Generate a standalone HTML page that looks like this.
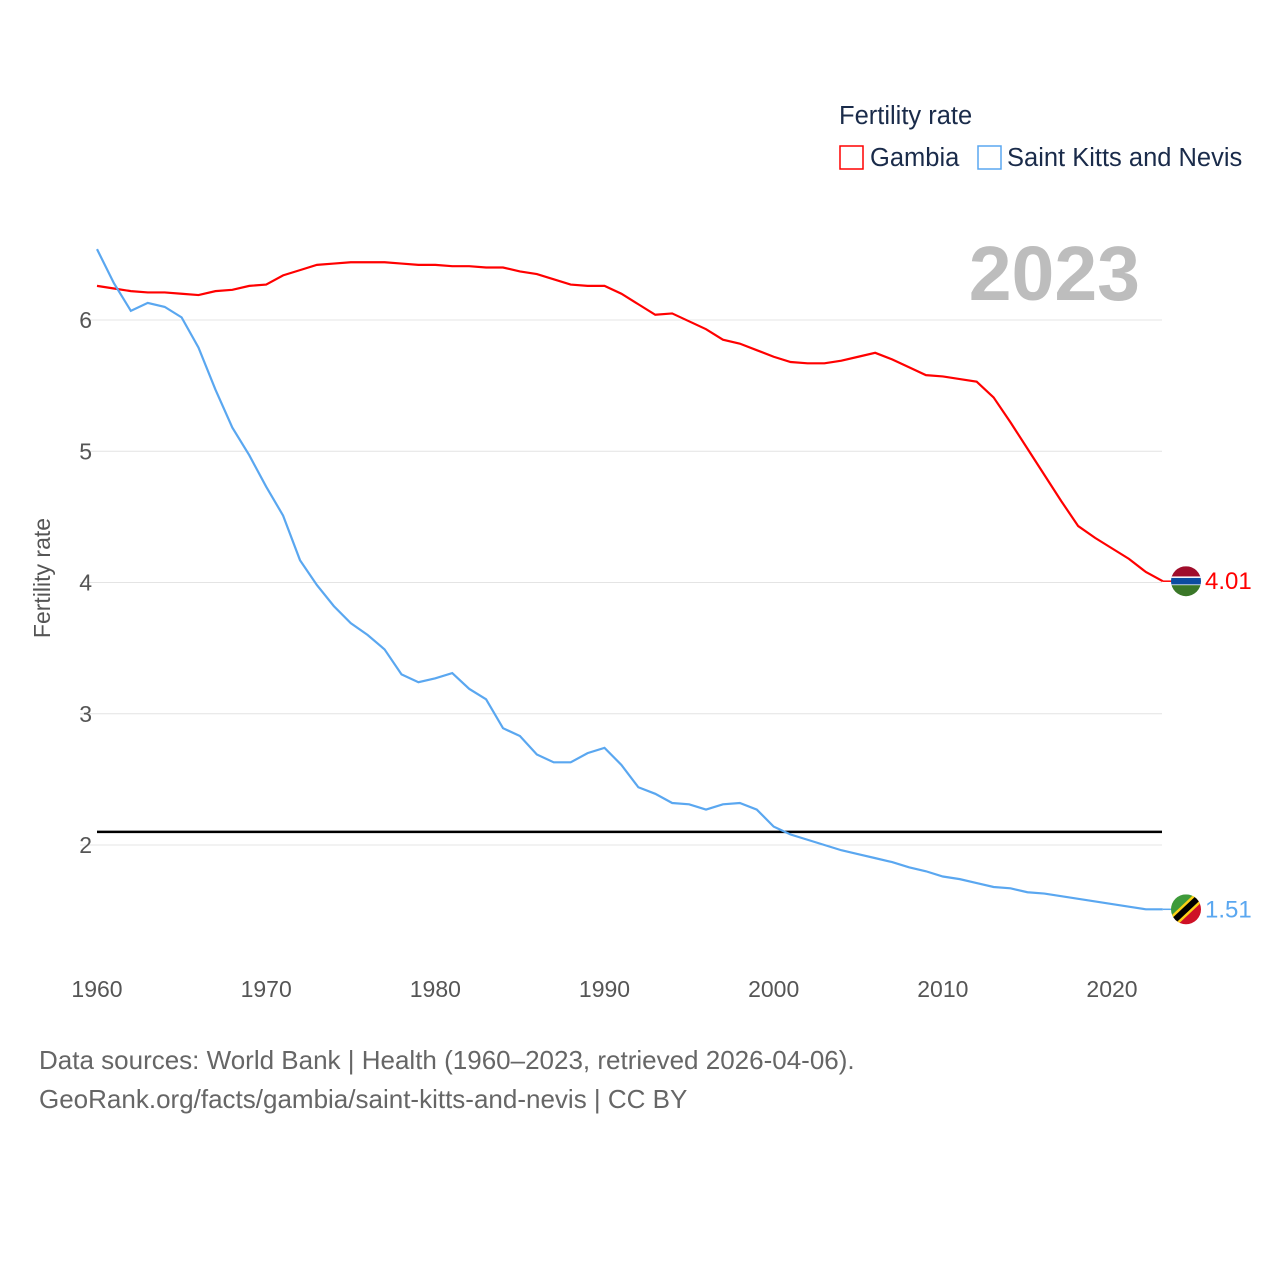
<!DOCTYPE html>
<html><head><meta charset="utf-8"><style>
body{margin:0;background:#fff;font-family:"Liberation Sans",sans-serif}
svg text{font-family:"Liberation Sans",sans-serif}
</style></head><body>
<svg width="1280" height="1280" viewBox="0 0 1280 1280">
<g id="grid"></g>
<text x="839" y="124" font-size="25.5" fill="#1a2b4a">Fertility rate</text>
<g><rect x="840" y="146" width="23" height="23" fill="none" stroke="#f00" stroke-width="1.5"/><text x="870" y="166" font-size="25.5" fill="#1a2b4a">Gambia</text></g>
<g><rect x="978" y="146" width="23" height="23" fill="none" stroke="#5aa7f0" stroke-width="1.5"/><text x="1007" y="166" font-size="25.5" fill="#1a2b4a">Saint Kitts and Nevis</text></g>
<text x="1140" y="300" font-size="77" font-weight="bold" fill="#bdbdbd" text-anchor="end">2023</text>
<text transform="translate(50,578) rotate(-90)" font-size="23" fill="#555" text-anchor="middle">Fertility rate</text>
<g id="plot"></g>
<text x="39" y="1069" font-size="26" fill="#666">Data sources: World Bank | Health (1960–2023, retrieved 2026-04-06).</text>
<text x="39" y="1108" font-size="26" fill="#666">GeoRank.org/facts/gambia/saint-kitts-and-nevis | CC BY</text>
</svg>
<script>
const years=[];for(let y=1960;y<=2023;y++)years.push(y);
const gambia=[6.26,6.24,6.22,6.21,6.21,6.20,6.19,6.22,6.23,6.26,6.27,6.34,6.38,6.42,6.43,6.44,6.44,6.44,6.43,6.42,6.42,6.41,6.41,6.40,6.40,6.37,6.35,6.31,6.27,6.26,6.26,6.20,6.12,6.04,6.05,5.99,5.93,5.85,5.82,5.77,5.72,5.68,5.67,5.67,5.69,5.72,5.75,5.70,5.64,5.58,5.57,5.55,5.53,5.41,5.22,5.02,4.82,4.62,4.43,4.34,4.26,4.18,4.08,4.01];
const skn=[6.54,6.28,6.07,6.13,6.10,6.02,5.79,5.47,5.18,4.97,4.73,4.51,4.17,3.98,3.82,3.69,3.60,3.49,3.30,3.24,3.27,3.31,3.19,3.11,2.89,2.83,2.69,2.63,2.63,2.70,2.74,2.61,2.44,2.39,2.32,2.31,2.27,2.31,2.32,2.27,2.14,2.08,2.04,2.00,1.96,1.93,1.90,1.87,1.83,1.80,1.76,1.74,1.71,1.68,1.67,1.64,1.63,1.61,1.59,1.57,1.55,1.53,1.51,1.51];
const yTicks=[2,3,4,5,6];
const xTicks=[1960,1970,1980,1990,2000,2010,2020];
const replacement=2.1;
const X=y=>97+(y-1960)*16.917, Y=v=>845-(v-2)*131.25;
const NS="http://www.w3.org/2000/svg";
function mk(t,a,p){const e=document.createElementNS(NS,t);for(const k in a)e.setAttribute(k,a[k]);p.appendChild(e);return e;}
const grid=document.getElementById('grid'),plot=document.getElementById('plot');
yTicks.forEach(v=>{
 const l=mk('line',{x1:80,x2:1162,y1:Y(v),y2:Y(v),stroke:'#e4e4e4','stroke-width':1},grid);
 
 
 const t=mk('text',{x:92,y:Y(v)+8,'font-size':23,fill:'#555','text-anchor':'end'},grid);t.textContent=v;
 
 
});
xTicks.forEach(v=>{
 const t=mk('text',{x:X(v),y:997,'font-size':23,fill:'#555','text-anchor':'middle'},grid);t.textContent=v;
 
 
});
const rl=mk('line',{x1:97,x2:1162,y1:Y(replacement),y2:Y(replacement),stroke:'#000','stroke-width':2.5},plot);


function series(vals,color,name){
 const p=mk('polyline',{points:vals.map((v,i)=>X(years[i])+','+Y(v)).join(' '),fill:'none',stroke:color,'stroke-width':2.2},plot);
 
 
 const last=vals[vals.length-1];
 mk('line',{x1:X(2023),x2:1172,y1:Y(last),y2:Y(last),stroke:color,'stroke-width':1.5},plot);
 const t=mk('text',{x:1205,y:Y(last)+8,'font-size':24,fill:color},plot);t.textContent=last.toFixed(2);
 
 
 return Y(last);
}
const gy=series(gambia,'#ff0000','gambia');
const sy=series(skn,'#5aa7f0','skn');
const fg=mk('g',{},plot);


fg.innerHTML=`<clipPath id="cg"><circle cx="1186" cy="${gy}" r="15"/></clipPath><g clip-path="url(#cg)"><rect x="1170" y="${gy-15}" width="32" height="11" fill="#a00d2b"/><rect x="1170" y="${gy-4}" width="32" height="8" fill="#0c4ca0" stroke="#fff" stroke-width="1.5"/><rect x="1170" y="${gy+4}" width="32" height="12" fill="#3a7728"/></g>`;
const fs=mk('g',{},plot);


fs.innerHTML=`<clipPath id="cs"><circle cx="1186" cy="${sy}" r="15"/></clipPath><g clip-path="url(#cs)"><polygon points="1170,${sy-15} 1202,${sy-15} 1170,${sy+15}" fill="#3e9a3a"/><polygon points="1202,${sy-15} 1202,${sy+15} 1170,${sy+15}" fill="#ce1126"/><line x1="1170" y1="${sy+15}" x2="1202" y2="${sy-15}" stroke="#fcd116" stroke-width="11"/><line x1="1170" y1="${sy+15}" x2="1202" y2="${sy-15}" stroke="#000" stroke-width="6"/></g>`;
</script>
</body></html>
